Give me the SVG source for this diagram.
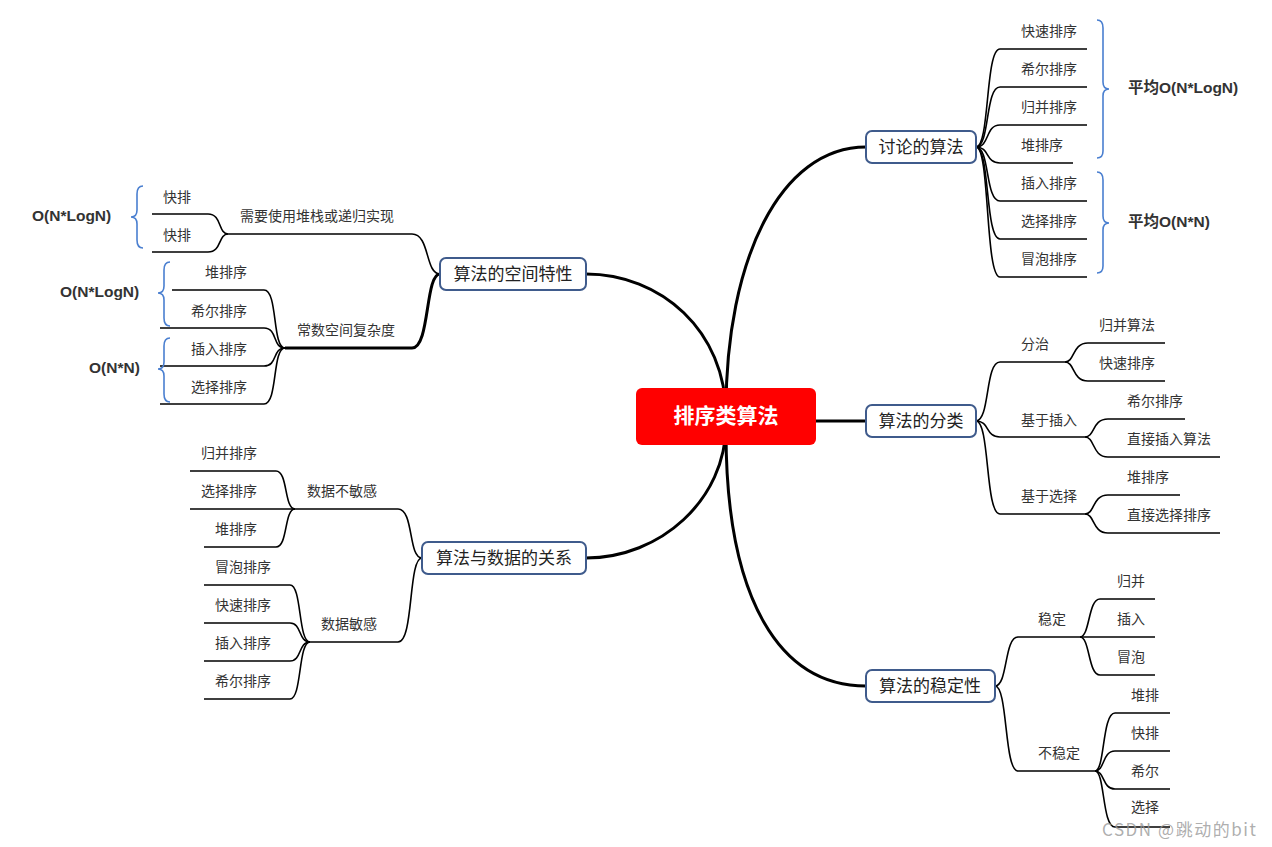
<svg xmlns="http://www.w3.org/2000/svg" width="1272" height="847" viewBox="0 0 1272 847">
<style>
.t{font-family:"Noto Sans CJK SC","Liberation Sans",sans-serif;font-size:14px;fill:#333}
.b{font-family:"Liberation Sans","Noto Sans CJK SC",sans-serif;font-size:15.5px;font-weight:bold;fill:#333}
.bx{fill:#fff;stroke:#3f5b8c;stroke-width:2}
.bt{font-family:"Noto Sans CJK SC",sans-serif;font-size:17px;fill:#222;text-anchor:middle}
.l{fill:none;stroke:#000;stroke-width:1.6}
.m{fill:none;stroke:#000;stroke-width:3}
.br{fill:none;stroke:#4a7fd0;stroke-width:1.6}
</style>
<rect width="1272" height="847" fill="#fff"/>
<g id="connectors">
<path class="m" d="M726,410 C726,260 780,147 866,147"/>
<path class="m" d="M816,421 H866"/>
<path class="m" d="M726,432 C726,600 780,686 866,686"/>
<path class="m" d="M726,416 C726,330 660,274 586,274"/>
<path class="m" d="M726,424 C726,500 660,558 586,558"/>
<path class="l" d="M976,147 C990,147 985,49 1000,49 H1087"/>
<path class="l" d="M976,147 C990,147 985,87 1000,87 H1087"/>
<path class="l" d="M976,147 C990,147 985,125 1000,125 H1087"/>
<path class="l" d="M976,147 C990,147 985,163 1000,163 H1073"/>
<path class="l" d="M976,147 C990,147 985,201 1000,201 H1087"/>
<path class="l" d="M976,147 C990,147 985,239 1000,239 H1087"/>
<path class="l" d="M976,147 C990,147 985,277 1000,277 H1087"/>
<path class="l" d="M440,274 C425,274 430,234 412,234 H228"/>
<path class="m" d="M440,274 C425,274 430,348 412,348 H285"/>
<path class="l" d="M228,234 C218,234 222,214 208,214 H152"/>
<path class="l" d="M228,234 C218,234 222,252 208,252 H152"/>
<path class="l" d="M285,348 C272,348 278,290 264,290 H172"/>
<path class="l" d="M285,348 C272,348 278,328 264,328 H160"/>
<path class="l" d="M285,348 C272,348 278,366 264,366 H160"/>
<path class="l" d="M285,348 C272,348 278,404 264,404 H160"/>
<path class="l" d="M422,558 C408,558 414,509 398,509 H295"/>
<path class="l" d="M422,558 C408,558 414,642 398,642 H310"/>
<path class="l" d="M295,509 C284,509 288,471 276,471 H190"/>
<path class="l" d="M295,509 H190"/>
<path class="l" d="M295,509 C284,509 288,547 276,547 H204"/>
<path class="l" d="M310,642 C298,642 302,585 290,585 H204"/>
<path class="l" d="M310,642 C298,642 302,623 290,623 H204"/>
<path class="l" d="M310,642 C298,642 302,661 290,661 H204"/>
<path class="l" d="M310,642 C298,642 302,699 290,699 H204"/>
<path class="l" d="M976,421 C990,421 985,362 1000,362 H1065"/>
<path class="l" d="M976,421 C990,421 985,437 1000,437 H1085"/>
<path class="l" d="M976,421 C990,421 985,514 1000,514 H1085"/>
<path class="l" d="M1065,362 C1075,362 1072,343 1088,343 H1165"/>
<path class="l" d="M1065,362 C1075,362 1072,381 1088,381 H1165"/>
<path class="l" d="M1085,437 C1095,437 1092,419 1108,419 H1185"/>
<path class="l" d="M1085,437 C1095,437 1092,457 1108,457 H1220"/>
<path class="l" d="M1085,514 C1095,514 1092,495 1108,495 H1180"/>
<path class="l" d="M1085,514 C1095,514 1092,533 1108,533 H1220"/>
<path class="l" d="M995,686 C1008,686 1004,637 1018,637 H1080"/>
<path class="l" d="M995,686 C1008,686 1004,771 1018,771 H1095"/>
<path class="l" d="M1080,637 C1090,637 1088,599 1100,599 H1155"/>
<path class="l" d="M1080,637 H1155"/>
<path class="l" d="M1080,637 C1090,637 1088,675 1100,675 H1155"/>
<path class="l" d="M1095,771 C1105,771 1102,713 1115,713 H1170"/>
<path class="l" d="M1095,771 C1105,771 1102,751 1115,751 H1170"/>
<path class="l" d="M1095,771 C1105,771 1102,789 1115,789 H1170"/>
<path class="l" d="M1095,771 C1105,771 1102,827 1115,827 H1170"/>
<path class="br" d="M1097,20 Q1103,20 1103,28 V82 Q1103,89 1109,89 Q1103,89 1103,96 V151 Q1103,158 1097,158"/>
<path class="br" d="M1097,172 Q1103,172 1103,180 V216 Q1103,223 1109,223 Q1103,223 1103,230 V266 Q1103,273 1097,273"/>
<path class="br" d="M143,186 Q137,186 137,194 V210 Q137,217 131,217 Q137,217 137,224 V240 Q137,248 143,248"/>
<path class="br" d="M170,262 Q164,262 164,270 V286 Q164,293 158,293 Q164,293 164,300 V318 Q164,326 170,326"/>
<path class="br" d="M170,338 Q164,338 164,346 V362 Q164,369 158,369 Q164,369 164,376 V394 Q164,402 170,402"/>
</g>
<g id="center"><rect x="636" y="388" width="180" height="57" rx="6" fill="#f00"/><text x="726" y="423" text-anchor="middle" font-family="Noto Sans CJK SC,sans-serif" font-size="21" font-weight="bold" fill="#fff">排序类算法</text></g>
<g id="n1"><rect class="bx" x="866" y="131" width="110" height="32" rx="6"/><text class="bt" x="921" y="153">讨论的算法</text></g>
<g id="n2"><rect class="bx" x="866" y="405" width="110" height="32" rx="6"/><text class="bt" x="921" y="427">算法的分类</text></g>
<g id="n3"><rect class="bx" x="866" y="670" width="129" height="32" rx="6"/><text class="bt" x="930" y="692">算法的稳定性</text></g>
<g id="n4"><rect class="bx" x="440" y="258" width="146" height="32" rx="6"/><text class="bt" x="513" y="280">算法的空间特性</text></g>
<g id="n5"><rect class="bx" x="422" y="542" width="164" height="32" rx="6"/><text class="bt" x="504" y="564">算法与数据的关系</text></g>
<g id="labels">
<text class="t" x="1021" y="36">快速排序</text><text class="t" x="1021" y="74">希尔排序</text><text class="t" x="1021" y="112">归并排序</text><text class="t" x="1021" y="150">堆排序</text><text class="t" x="1021" y="188">插入排序</text><text class="t" x="1021" y="226">选择排序</text><text class="t" x="1021" y="264">冒泡排序</text>
<text class="b" x="1128" y="93">平均O(N*LogN)</text><text class="b" x="1128" y="227">平均O(N*N)</text>
<text class="t" x="240" y="221">需要使用堆栈或递归实现</text><text class="t" x="297" y="335">常数空间复杂度</text>
<text class="t" x="163" y="202">快排</text><text class="t" x="163" y="240">快排</text>
<text class="t" x="205" y="277">堆排序</text><text class="t" x="191" y="316">希尔排序</text><text class="t" x="191" y="354">插入排序</text><text class="t" x="191" y="392">选择排序</text>
<text class="b" x="32" y="221">O(N*LogN)</text><text class="b" x="60" y="297">O(N*LogN)</text><text class="b" x="89" y="373">O(N*N)</text>
<text class="t" x="307" y="496">数据不敏感</text><text class="t" x="321" y="629">数据敏感</text>
<text class="t" x="201" y="458">归并排序</text><text class="t" x="201" y="496">选择排序</text><text class="t" x="215" y="534">堆排序</text>
<text class="t" x="215" y="572">冒泡排序</text><text class="t" x="215" y="610">快速排序</text><text class="t" x="215" y="648">插入排序</text><text class="t" x="215" y="686">希尔排序</text>
<text class="t" x="1021" y="349">分治</text><text class="t" x="1021" y="425">基于插入</text><text class="t" x="1021" y="501">基于选择</text>
<text class="t" x="1099" y="330">归并算法</text><text class="t" x="1099" y="368">快速排序</text>
<text class="t" x="1127" y="406">希尔排序</text><text class="t" x="1127" y="444">直接插入算法</text>
<text class="t" x="1127" y="482">堆排序</text><text class="t" x="1127" y="520">直接选择排序</text>
<text class="t" x="1038" y="624">稳定</text><text class="t" x="1038" y="758">不稳定</text>
<text class="t" x="1117" y="586">归并</text><text class="t" x="1117" y="624">插入</text><text class="t" x="1117" y="662">冒泡</text>
<text class="t" x="1131" y="700">堆排</text><text class="t" x="1131" y="738">快排</text><text class="t" x="1131" y="776">希尔</text><text class="t" x="1131" y="812">选择</text>
<text x="1102" y="836" font-family="Noto Sans CJK SC,sans-serif" font-size="17" textLength="154" fill="#999" fill-opacity="0.8">CSDN @跳动的bit</text>
</g>
</svg>
